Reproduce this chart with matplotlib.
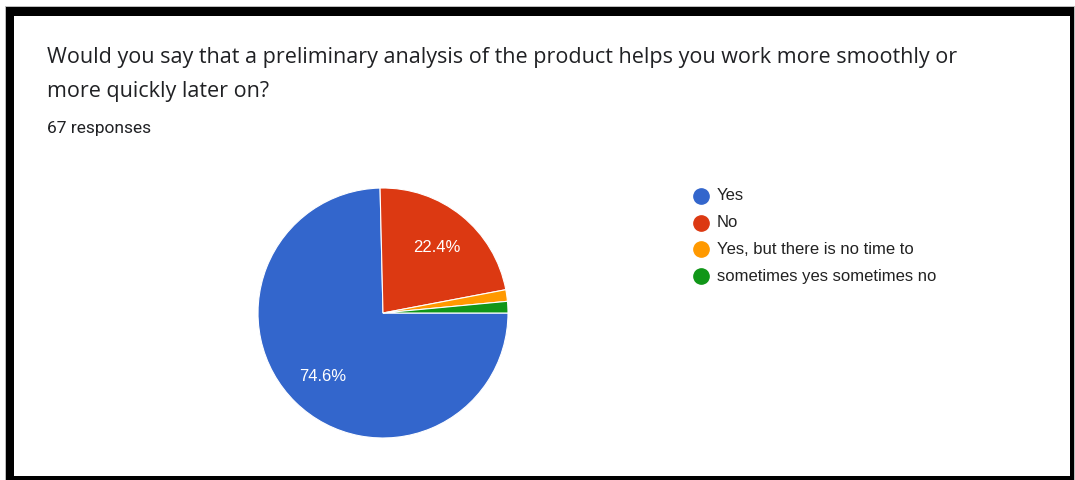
import matplotlib
matplotlib.use("Agg")
import matplotlib.pyplot as plt
from matplotlib.patches import Rectangle
from matplotlib.lines import Line2D

# Survey answers (67 responses)
labels = ["Yes", "No", "Yes, but there is no time to", "sometimes yes sometimes no"]
counts = [50, 15, 1, 1]
colors = ["#3366CC", "#DC3912", "#FF9900", "#109618"]
question_lines = [
    "Would you say that a preliminary analysis of the product helps you work more smoothly or",
    "more quickly later on?",
]
responses_text = "67 responses"

W, H = 1075, 480
fig = plt.figure(figsize=(W / 100, H / 100), dpi=100)
fig.patch.set_facecolor("white")


def px_rect(x0, y0, x1, y1, **kw):
    # rectangle given in pixel coordinates measured from the top-left corner
    return Rectangle((x0 / W, 1 - y1 / H), (x1 - x0) / W, (y1 - y0) / H,
                     transform=fig.transFigure, zorder=-10, **kw)


# Card frame: thin grey outline, thick black border, white card
fig.patches.append(px_rect(5, 6, 1075, 481, facecolor="#bdbdbd", edgecolor="none"))
fig.patches.append(px_rect(6, 7, 1074, 481, facecolor="black", edgecolor="none"))
fig.patches.append(px_rect(14, 16, 1070, 476, facecolor="white", edgecolor="none"))

# Question title and response count
title_font = ["Open Sans", "DejaVu Sans"]
fig.text(47 / W, 1 - 57 / H, question_lines[0], family=title_font, fontsize=15.5,
         color="#202124", va="center", ha="left")
fig.text(47 / W, 1 - 91 / H, question_lines[1], family=title_font, fontsize=15.5,
         color="#202124", va="center", ha="left")
fig.text(47 / W, 1 - 129 / H, responses_text, family=["Roboto", "DejaVu Sans"],
         fontsize=12.5, color="#202124", va="center", ha="left")

# Pie chart, centred at (383, 313) px with radius 125 px
cx, cy, r = 383, 313, 125
ax = fig.add_axes([(cx - r) / W, 1 - (cy + r) / H, 2 * r / W, 2 * r / H])


def pct_label(p):
    return f"{p:.1f}%" if p >= 5 else ""


wedges, _, autotexts = ax.pie(
    counts, colors=colors, startangle=0, counterclock=False, radius=1,
    autopct=pct_label, pctdistance=0.69,
    wedgeprops=dict(edgecolor="white", linewidth=0.8),
    textprops=dict(color="white", fontsize=12, family=["Liberation Sans", "DejaVu Sans"]),
)
# nudge the percentage labels slightly downward
for t in autotexts:
    x, y = t.get_position()
    t.set_position((x, y - 0.016))

ax.set_xlim(-1.0, 1.0)
ax.set_ylim(-1.0, 1.0)
ax.set_aspect("equal")
ax.axis("off")

# Legend with round markers
legend_font = ["Liberation Sans", "DejaVu Sans"]
for i, (lab, col) in enumerate(zip(labels, colors)):
    y = 196 + i * 26.7
    fig.text(717 / W, 1 - y / H, lab, family=legend_font, fontsize=12,
             color="#222222", va="center", ha="left")
    fig.add_artist(Line2D([701 / W], [1 - y / H], marker="o", markersize=11,
                          color=col, linestyle="none", transform=fig.transFigure))

fig.savefig("out.png", dpi=100, facecolor=fig.get_facecolor())
